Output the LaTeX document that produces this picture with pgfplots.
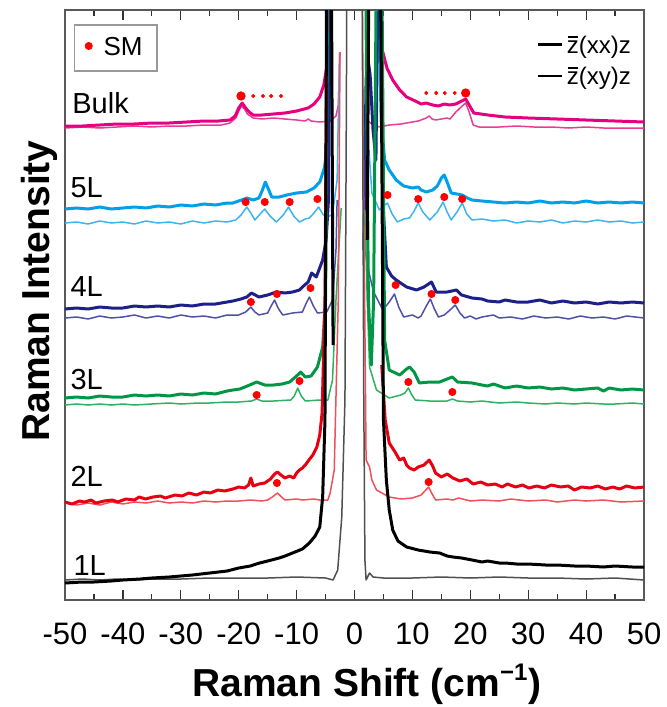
\documentclass[border=0pt]{standalone}
\usepackage{fontspec}
\setmainfont{Liberation Sans}
\usepackage{pgfplots}
\pgfplotsset{compat=1.18}
\definecolor{cBulk}{RGB}{228,0,127}
\definecolor{cBulkT}{RGB}{232,60,150}
\definecolor{cFive}{RGB}{0,160,233}
\definecolor{cFiveT}{RGB}{60,180,240}
\definecolor{cFour}{RGB}{29,32,136}
\definecolor{cFourT}{RGB}{80,80,165}
\definecolor{cThree}{RGB}{0,150,70}
\definecolor{cThreeT}{RGB}{50,175,100}
\definecolor{cTwo}{RGB}{230,0,18}
\definecolor{cTwoT}{RGB}{240,80,90}
\definecolor{cOneT}{RGB}{80,80,80}
\newcommand{\zbar}{\leavevmode\rlap{\hspace{0.03em}\rule[0.64em]{0.44em}{0.07em}}z}
\begin{document}
\begin{tikzpicture}
\path[use as bounding box] (-32.5pt,-53.5pt) rectangle (300.5pt,300pt);
\begin{axis}[
  at={(0,0)}, anchor=south west,
  scale only axis, width=289.5pt, height=295pt,
  xmin=-50, xmax=50, ymin=10, ymax=600, y dir=reverse,
  ytick=\empty,
  xtick={-50,-40,...,50},
  xticklabels={-50,-40,-30,-20,-10,0,10,20,30,40,50},
  minor x tick num=1,
  tick align=inside, xtick pos=both,
  major tick length=5pt, minor tick length=3pt,
  axis line style={black!65, line width=0.7pt},
  every tick/.style={black!80, line width=0.6pt},
  xticklabel style={font=\fontsize{15.5}{18}\selectfont, anchor=base, yshift=-22pt},
  clip mode=individual,
  every axis plot/.append style={line join=round},
]
% ---- Bulk
\addplot[cBulkT, line width=0.75pt] coordinates {(-50,128)(-47,127)(-44,128)(-41,127)(-38,126)(-35,127)(-32,126)(-29,126)(-26,125)(-23,125)(-21.5,123)(-20.5,118)(-19.9,110)(-19.5,106)(-19,109)(-18.5,114)(-17.5,118)(-16,119)(-14,118)(-12,119)(-10,120)(-8.5,121)(-8,119)(-7.5,121)(-6,122)(-4.2,121)(-3.2,116)(-2.8,105)(-2.5,52)};
\addplot[cBulkT, line width=0.75pt] coordinates {(1.9,60)(2.1,120)(3,124)(4.3,127)(6,125)(8,124)(9,123)(11,121)(12.4,118)(12.9,116)(13.4,119)(14,120)(15,119)(16,118)(16.5,119)(17.5,112)(18.6,106)(19.2,103)(19.8,112)(20.5,125)(21.5,127)(25,127)(28,126)(31,127)(34,127)(37,128)(40,127)(43,128)(46,128)(50,128)};
\addplot[cBulk, line width=1.5pt] coordinates {(-50,126)(-47,126)(-44,125)(-41,124)(-38,124)(-35,123)(-32,123)(-29,122)(-26,121)(-23.5,121)(-21.5,120)(-20.6,116)(-20,108)(-19.4,103)(-18.8,108)(-18.2,112)(-17.5,115)(-16,115)(-14,114)(-12,113)(-10,111)(-8,108)(-7,104)(-6,97)(-5.3,85)(-4.8,67)(-4.4,40)(-4.1,-50)};
\addplot[cBulk, line width=1.5pt] coordinates {(3.4,-50)(4.0,20)(4.8,50)(5.6,68)(6.6,80)(7.8,90)(9,97)(10.5,101)(11.5,104)(12.4,103)(13.5,105)(14.5,106)(15.5,104)(16.4,105)(17.5,104)(18.5,101)(19.2,99)(20,107)(20.6,113)(23,115)(26,117)(30,118)(35,119)(40,120)(45,121)(50,122)};
% ---- 5L
\addplot[cFiveT, line width=0.75pt] coordinates {(-50,223)(-48,222)(-46,224)(-44,221)(-42,223)(-40,222)(-38,224)(-36,221)(-34,223)(-32,222)(-30,224)(-28,221)(-26,223)(-24,221)(-22,222)(-20.5,220)(-19.6,215)(-18.6,207)(-17.8,214)(-17.2,220)(-16.3,214)(-15.5,209)(-14.6,216)(-13.5,222)(-12.3,215)(-11.4,207)(-10.5,216)(-9.5,222)(-8.5,219)(-7.8,218)(-7,213)(-6.2,207)(-5.5,214)(-4.8,218)(-3.8,214)(-3.0,180)(-2.6,53)};
\addplot[cFiveT, line width=0.75pt] coordinates {(2.5,150)(3.0,193)(4.3,210)(5.0,206)(5.7,203)(6.5,214)(7.4,222)(8.5,219)(9.5,218)(10.3,211)(11,203)(11.8,212)(13,220)(14.3,212)(15.3,202)(16,212)(16.7,220)(17.7,212)(18.6,203)(19.4,214)(20.3,220)(22,219)(24,221)(26,220)(28,223)(30,221)(32,222)(34,220)(36,223)(38,221)(40,222)(42,220)(44,222)(46,221)(48,223)(50,222)};
\addplot[cFive, line width=1.5pt] coordinates {(-50,209)(-48,208)(-46,209)(-44,207)(-42,209)(-40,208)(-38,207)(-36,208)(-34,206)(-32,207)(-30,205)(-28,206)(-26,204)(-24,205)(-22,203)(-21,203)(-19.5,200)(-18.6,198)(-17.5,200)(-16.5,198)(-15.9,190)(-15.4,182)(-14.8,190)(-14.3,197)(-13,197)(-11.7,195)(-10,193)(-8.3,192)(-7,188)(-6,182)(-5.2,168)(-4.6,140)(-4.3,100)(-4.0,-50)};
\addplot[cFive, line width=1.5pt] coordinates {(4.0,-50)(4.6,120)(5.2,160)(6,170)(7.2,180)(8.5,186)(10,188)(11,187)(11.5,190)(12.4,192)(13.5,190)(14.3,186)(15,178)(15.5,175)(16,182)(16.7,193)(17.7,194)(18.6,195)(19.5,198)(20.3,200)(22,201)(24,202)(26,203)(28,202)(30,203)(32,201)(34,203)(36,202)(38,203)(40,201)(42,203)(44,202)(46,203)(48,202)(50,203)};
% ---- 4L
\addplot[cFourT, line width=0.75pt] coordinates {(-50,318)(-48,317)(-46,319)(-44,316)(-42,318)(-40,317)(-38,315)(-36,318)(-34,316)(-32,318)(-30,315)(-28,317)(-26,316)(-24,318)(-22,315)(-20,315)(-18.8,312)(-17.9,307)(-17.2,312)(-16.5,315)(-15,313)(-14.4,306)(-13.8,300)(-13.2,308)(-12.4,315)(-10.7,313)(-9,312)(-8.4,304)(-7.8,297)(-7.1,306)(-6.4,313)(-4.8,312)(-3.8,300)(-3.2,250)(-3.0,200)};
\addplot[cFourT, line width=0.75pt] coordinates {(1.8,250)(2.6,275)(3.3,292)(4.9,310)(6.0,302)(6.9,294)(7.7,308)(8.5,317)(10,315)(11,318)(11.5,316)(12.4,306)(13.1,299)(13.8,309)(14.5,317)(15.5,315)(16.5,310)(17.4,305)(18.2,313)(19,318)(20,316)(21,319)(22,317)(24,315)(25,318)(27,317)(29,319)(31,316)(33,318)(35,317)(37,319)(39,316)(41,318)(43,317)(45,319)(47,316)(50,318)};
\addplot[cFour, line width=1.5pt] coordinates {(-50,309)(-48,308)(-46,309)(-44,307)(-42,308)(-40,308)(-38,306)(-36,307)(-34,306)(-32,307)(-30,305)(-28,306)(-26,304)(-24,304)(-22,302)(-21,301)(-19.6,299)(-18.6,297)(-17.8,293)(-16.5,297)(-15,295)(-13.5,292)(-12,293)(-10.7,292)(-9.5,290)(-9,287)(-8,282)(-7.4,273)(-6.6,277)(-5.5,260)(-4.9,240)(-4.5,200)(-4.2,-50)};
\addplot[cFour, line width=1.5pt] coordinates {(1.6,250)(2.0,80)(2.3,58)(2.7,75)(3.2,130)(3.7,160)(4.1,-50)(4.4,-50)(4.9,200)(5.5,267)(6.4,276)(7.2,280)(9,287)(10.7,290)(12,287)(13.3,282)(14.1,292)(16,292)(17.6,290)(18.5,295)(20.3,298)(22,299)(23,301)(25,302)(26,300)(28,302)(30,302)(32,300)(34,303)(36,301)(38,303)(40,302)(42,304)(44,302)(46,303)(48,302)(50,303)};
% ---- 3L
\addplot[cThreeT, line width=0.75pt] coordinates {(-50,405)(-48,404)(-46,405)(-44,404)(-42,405)(-40,404)(-38,405)(-35,404)(-32,403)(-30,404)(-27,403)(-25,403)(-22,402)(-20,402)(-17.8,401)(-16.9,399)(-16,401)(-14,401)(-11,400)(-10.4,396)(-9.8,388)(-9.2,396)(-8.5,401)(-6,400)(-4.6,400)(-3.8,380)(-3.2,300)(-2.3,208)};
\addplot[cThreeT, line width=0.75pt] coordinates {(1.8,210)(2.2,300)(2.6,367)(3.8,390)(6,398)(8,395)(8.7,393)(9.3,388)(9.9,395)(10.5,400)(13,401)(16,401)(16.9,399)(17.8,401)(20,402)(22,401)(25,403)(28,402)(30,403)(33,404)(35,403)(38,404)(40,403)(43,404)(45,404)(48,403)(50,404)};
\addplot[cThree, line width=1.5pt] coordinates {(-50,398)(-48,397)(-46,398)(-44,396)(-42,397)(-40,397)(-38,395)(-36,396)(-34,395)(-32,396)(-30,394)(-28,395)(-26,393)(-24,394)(-22,391)(-21,390)(-19.8,389)(-18.5,386)(-16.9,382)(-15.5,385)(-14,385)(-12.5,384)(-11.2,382)(-10,376)(-9.3,372)(-8.5,377)(-7.5,376)(-6.4,367)(-5.5,347)(-5.0,300)(-4.6,-50)};
\addplot[cThree, line width=1.5pt] coordinates {(1.9,-50)(2.4,300)(2.9,365)(3.3,300)(3.8,-50)(4.7,-50)(5.2,340)(6,370)(7.8,375)(9,369)(9.5,367)(10.3,372)(11.2,383)(13,382)(14.7,382)(16,379)(16.9,377)(17.8,382)(20.3,383)(22,385)(23,386)(24,384)(26,388)(28,386)(30,388)(32,387)(34,389)(36,388)(38,390)(40,389)(42,388)(43,391)(44,388)(46,390)(48,389)(50,390)};
% ---- 2L
\addplot[cTwoT, line width=0.75pt] coordinates {(-50,503)(-48,505)(-46,503)(-44,505)(-42,502)(-40,504)(-38,502)(-36,503)(-34,501)(-32,503)(-30,502)(-28,503)(-26,501)(-24,502)(-22,501)(-20,501)(-18,500)(-16,501)(-15,500)(-14.2,497)(-13.3,493)(-12.6,497)(-12,500)(-10,499)(-9,500)(-7,499)(-6,500)(-4.6,500)(-4.2,493)(-3.5,470)(-2.8,300)(-2.5,52)};
\addplot[cTwoT, line width=0.75pt] coordinates {(1.3,-50)(1.6,200)(2.0,460)(2.6,467)(3.0,480)(3.8,490)(6,497)(8,499)(10,498)(11.5,495)(12.8,487)(13.5,495)(14,500)(16,499)(17,500)(18,498)(20,501)(22,500)(25,501)(27,499)(30,501)(33,500)(35,502)(38,500)(40,501)(43,500)(46,502)(50,501)};
\addplot[cTwo, line width=1.5pt] coordinates {(-50,502)(-48.8,504)(-47.5,501)(-46.6,502)(-45.5,500)(-44.7,503)(-43.2,501)(-41.8,500)(-40.9,502)(-39.5,499)(-38,500)(-37.2,497)(-36.1,499)(-34.8,497)(-33.5,496)(-32.7,498)(-31,495)(-29.8,496)(-28.6,493)(-27.3,495)(-26,492)(-24.9,493)(-23.6,490)(-22.4,491)(-21,489)(-20,487)(-19,488)(-18.3,485)(-17.9,478)(-17.5,486)(-16.5,484)(-15.5,483)(-14.5,479)(-13.8,474)(-13.3,472)(-12.7,475)(-12,478)(-11.2,476)(-10.5,478)(-10,473)(-9.5,470)(-9,468)(-8.5,465)(-8,461)(-7.2,455)(-6.5,447)(-6,435)(-5.6,413)(-5.1,300)(-4.7,-50)};
\addplot[cTwo, line width=1.5pt] coordinates {(4.7,365)(5.3,420)(6,443)(7,452)(7.8,460)(8.5,458)(9,465)(9.5,468)(10.3,470)(11,467)(12,465)(12.9,460)(13.5,466)(14,473)(15,477)(16,474)(17,478)(18.2,481)(19.4,479)(20.5,484)(21.8,482)(23,485)(24.3,484)(25.5,487)(26.4,484)(27.8,487)(29,485)(30.1,488)(31.5,486)(32.8,488)(34,485)(35.6,487)(36.9,486)(38,490)(39.2,487)(40.7,488)(42,486)(43.3,489)(44.6,487)(45.8,489)(47,486)(48.4,488)(50,487)};
% ---- 1L
\addplot[cOneT, line width=0.75pt] coordinates {(-50,580)(-47,579)(-44,580)(-41,579)(-38,580)(-35,579)(-30,579)(-25,578)(-20,578)(-15,578)(-10,577)(-5,578)(-3.7,580)(-2.9,570)(-2.2,517)(-1.65,400)(-1.4,100)(-1.3,-50)};
\addplot[cOneT, line width=0.75pt] coordinates {(1.3,-50)(1.4,100)(1.6,400)(1.8,560)(2.0,580)(2.6,573)(3.2,577)(5,578)(10,578)(15,577)(20,578)(25,577)(30,578)(35,578)(40,579)(45,578)(50,580)};
\addplot[black, line width=1.5pt] coordinates {(-50,583)(-47,582)(-45,582)(-42,581)(-40,580)(-37,579)(-35,578)(-32,577)(-30,576)(-28,575)(-25,573)(-22,571)(-20,568)(-18,566)(-16.4,563)(-15,561)(-13,558)(-12,556)(-10.7,553)(-9,549)(-7.8,543)(-6.8,536)(-6,527)(-5.5,497)(-5.1,420)(-4.8,-50)(-4.0,-50)(-3.7,345)};
\addplot[black, line width=1.5pt] coordinates {(2.2,240)(2.5,-50)(4.5,-50)(5.0,420)(5.5,480)(6,510)(6.6,530)(7.5,541)(9,547)(11,550)(13,552)(14.7,553)(16,556)(17,557)(18.5,558)(20.3,560)(22,562)(23,561)(25,563)(26,563)(28,564)(30,564)(33,565)(35,565)(38,566)(40,566)(43,567)(45,566)(48,567)(50,567)};
% ---- SM markers
\addplot[only marks, mark=*, mark size=2.1pt, red, mark options={draw=red,fill=red}] coordinates {(-19.6,96)(19.2,93)};
\addplot[only marks, mark=*, mark size=0.8pt, red, mark options={draw=red,fill=red}] coordinates {(-17.5,96)(-15.8,96)(-14.4,96)(-12.7,96)(12.4,93)(14.1,93)(15.6,93)(17.3,93)};
\addplot[only marks, mark=*, mark size=1.8pt, red, mark options={draw=red,fill=red}] coordinates {
(-18.8,202)(-15.5,202)(-11.2,202)(-6.4,199)(5.7,195)(11.0,199)(15.5,197)(18.6,199)
(-17.9,302)(-13.4,294)(-7.6,288)(7.1,285)(13.3,294)(17.4,300)
(-16.9,395)(-9.5,381)(9.3,382)(16.9,392)
(-13.4,483)(12.8,482)};
% ---- legend
\draw[black!40, line width=0.6pt] (axis cs:-48.4,25) rectangle (axis cs:-34.1,71);
\addplot[only marks, mark=*, mark size=1.8pt, red, mark options={draw=red,fill=red}] coordinates {(-45.9,46)};
\node[anchor=base west, inner sep=0, font=\fontsize{13}{15}\selectfont] at (axis cs:-43.4,55) {SM};
\addplot[black, line width=1.5pt] coordinates {(31.7,44)(35.8,44)};
\addplot[black, line width=0.75pt] coordinates {(31.7,76)(35.8,76)};
\node[anchor=base west, inner sep=0, font=\fontsize{12}{14}\selectfont] at (axis cs:36.6,53) {\zbar(xx)z};
\node[anchor=base west, inner sep=0, font=\fontsize{12}{14}\selectfont] at (axis cs:36.6,84) {\zbar(xy)z};
% ---- sample labels
\begin{scope}[every node/.style={anchor=west, inner sep=0, font=\fontsize{14.5}{17}\selectfont}]
\node at (axis cs:-48.8,103) {Bulk};
\node at (axis cs:-49.1,188) {5L};
\node at (axis cs:-49.1,287) {4L};
\node at (axis cs:-49.1,380) {3L};
\node at (axis cs:-49.1,476) {2L};
\node at (axis cs:-48.6,566) {1L};
\end{scope}
\end{axis}
\node[anchor=base, font=\bfseries\fontsize{19.5}{22}\selectfont] at (151pt,-48pt) {Raman Shift (cm\textsuperscript{\fontsize{12}{14}\selectfont−1})};
\node[anchor=base, rotate=90, font=\bfseries\fontsize{19.5}{22}\selectfont] at (-7.5pt,154.5pt) {Raman Intensity};
\end{tikzpicture}
\end{document}
